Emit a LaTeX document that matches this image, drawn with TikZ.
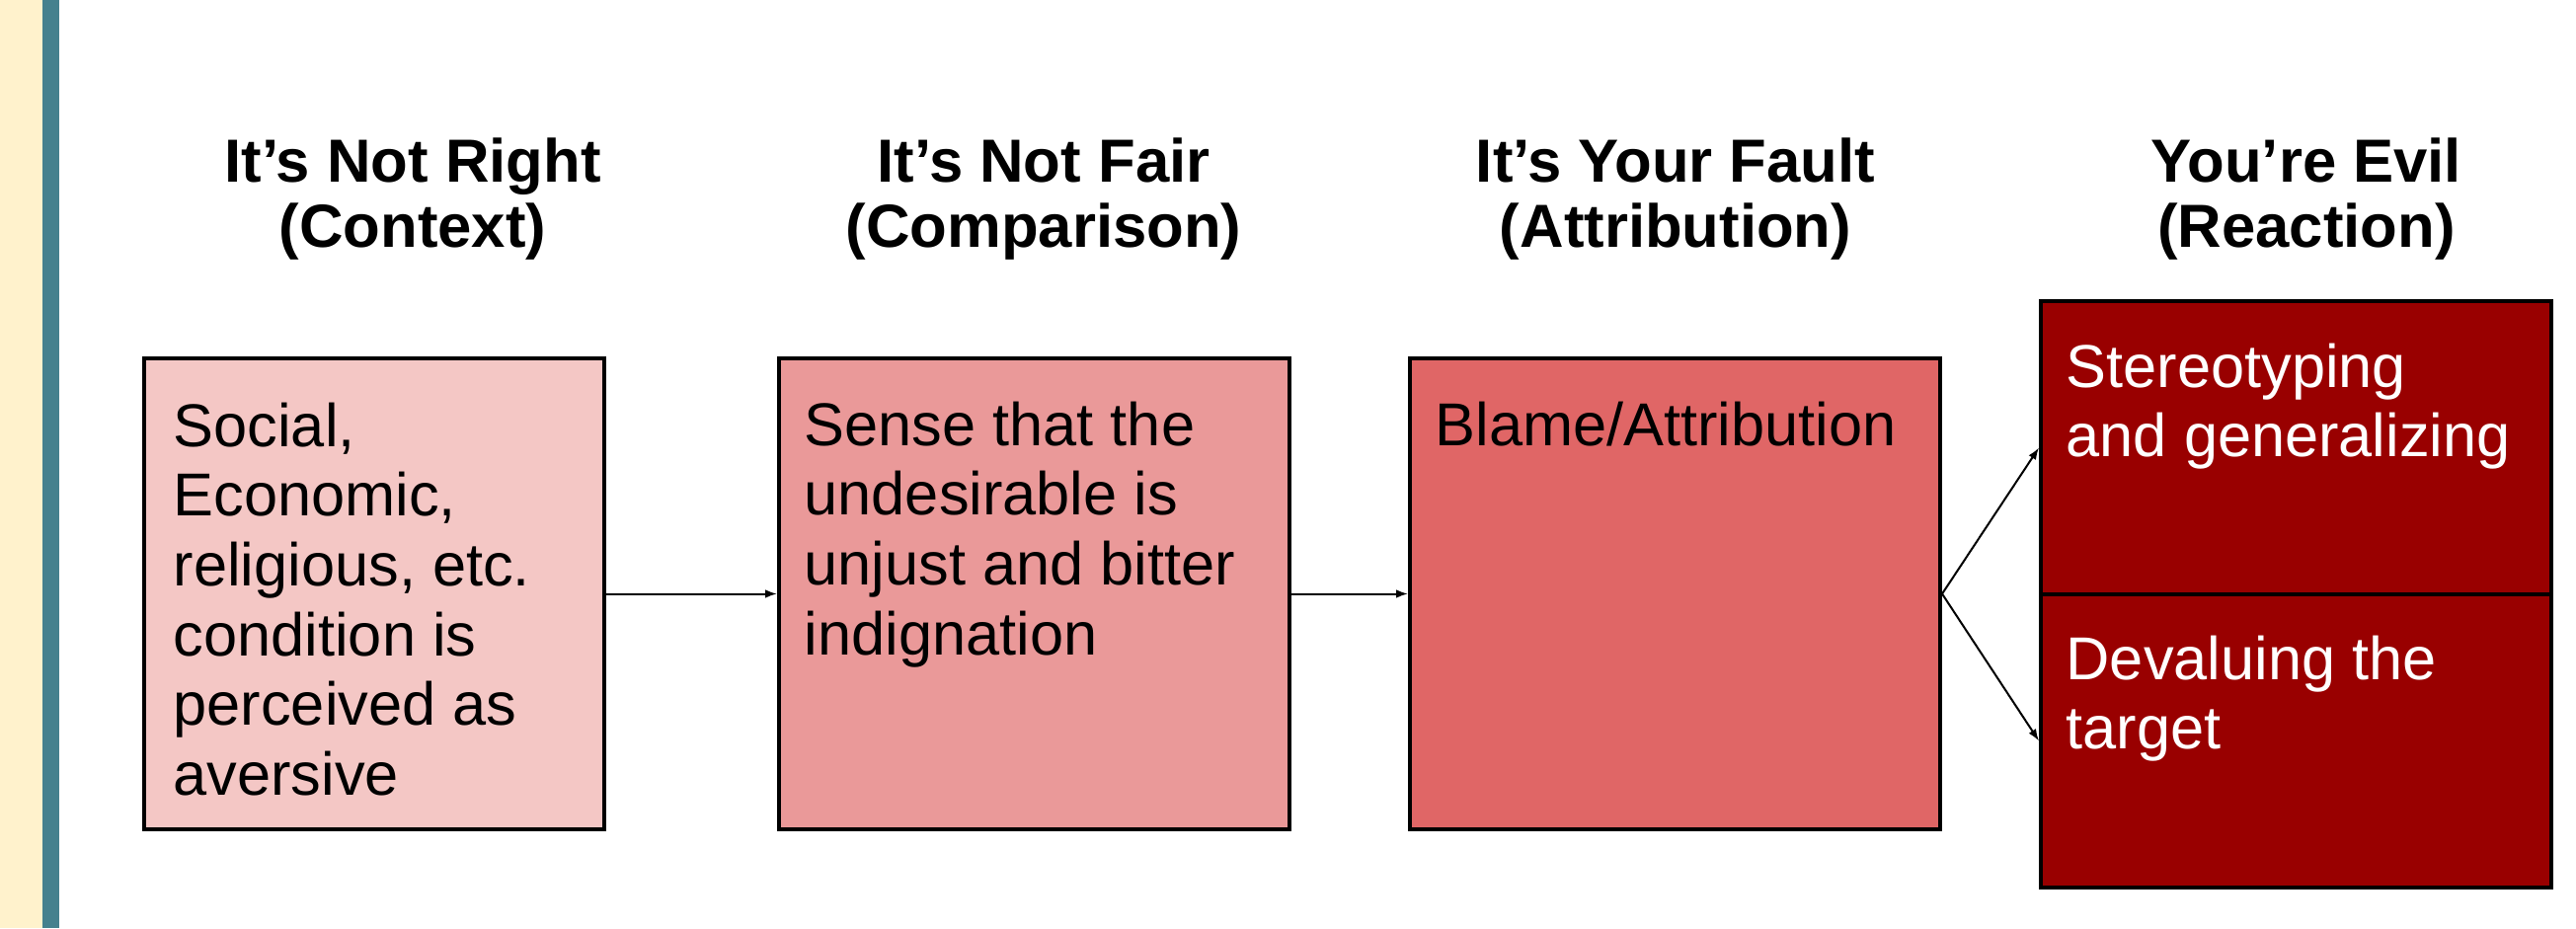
\documentclass[tikz,border=0pt]{standalone}
\usepackage{fontspec}
\setmainfont{Liberation Sans}
\usetikzlibrary{arrows.meta,calc}
\definecolor{creamstrip}{HTML}{FFF2CC}
\definecolor{tealstrip}{HTML}{45818E}
\definecolor{stageA}{HTML}{F4C7C5}
\definecolor{stageB}{HTML}{EA9999}
\definecolor{stageC}{HTML}{E06666}
\definecolor{stageD}{HTML}{990000}
\begin{document}
\begin{tikzpicture}[x=0.3pt,y=-0.3pt,
  stagebox/.style={draw=black,line width=1.2pt,inner sep=0pt},
  bodytext/.style={anchor=north west,inner sep=0pt,align=left,
    font=\fontsize{18.4}{21.2}\selectfont},
  heading/.style={anchor=north,inner sep=0pt,align=center,
    font=\bfseries\fontsize{18.5}{19.8}\selectfont},
  conn/.style={line width=0.6pt,-{Latex[length=3.6pt,width=2.6pt]}}]
  % canvas and side strip
  \path[use as bounding box,fill=white] (0,0) rectangle (2609,940);
  \fill[creamstrip] (0,0) rectangle (43,940);
  \fill[tealstrip] (43,0) rectangle (60,940);

  % stage boxes
  \node[stagebox,fill=stageA,minimum width=139.8pt,minimum height=143.1pt] (b1) at (379,601.5) {};
  \node[stagebox,fill=stageB,minimum width=155.1pt,minimum height=143.1pt] (b2) at (1047.5,601.5) {};
  \node[stagebox,fill=stageC,minimum width=161.1pt,minimum height=143.1pt] (b3) at (1696.5,601.5) {};
  \node[stagebox,fill=stageD,minimum width=155.1pt,minimum height=89.1pt] (b4a) at (2325.5,453.5) {};
  \node[stagebox,fill=stageD,minimum width=155.1pt,minimum height=89.1pt] (b4b) at (2325.5,750.5) {};

  % headings
  \node[heading] (h1) at (418,139) {It’s Not Right\\(Context)};
  \node[heading] (h2) at (1057,139) {It’s Not Fair\\(Comparison)};
  \node[heading] (h3) at (1697,139) {It’s Your Fault\\(Attribution)};
  \node[heading] (h4) at (2336,139) {You’re Evil\\(Reaction)};

  % box texts
  \node[bodytext] (t1) at ($(b1.north west)+(31,46)$)
    {Social,\\Economic,\\religious, etc.\\condition is\\perceived as\\aversive};
  \node[bodytext] (t2) at ($(b2.north west)+(27,45)$)
    {Sense that the\\undesirable is\\unjust and bitter\\indignation};
  \node[bodytext] (t3) at ($(b3.north west)+(27,45)$)
    {Blame/Attribution};
  \node[bodytext,text=white] (t4a) at ($(b4a.north west)+(27,44)$)
    {Stereotyping\\and generalizing};
  \node[bodytext,text=white] (t4b) at ($(b4b.north west)+(27,43)$)
    {Devaluing the\\target};

  % connectors
  \draw[conn] (b1.east) -- (b2.west);
  \draw[conn] (b2.east) -- (b3.west);
  \draw[conn] (b3.east) -- (b4a.west);
  \draw[conn] (b3.east) -- (b4b.west);
\end{tikzpicture}
\end{document}
